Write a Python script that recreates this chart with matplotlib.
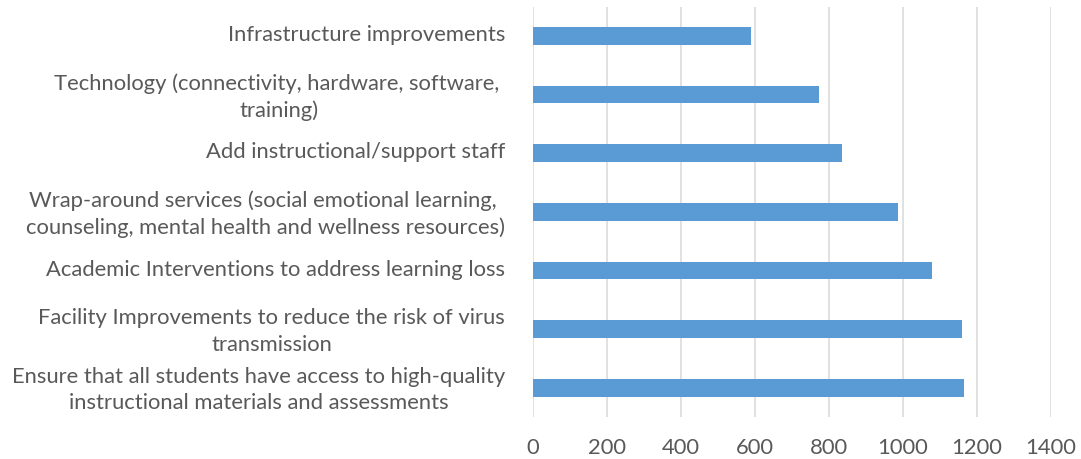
import matplotlib
matplotlib.use("Agg")
import matplotlib.pyplot as plt
import matplotlib.transforms as mtransforms

categories = [
    "Infrastructure improvements",
    "Technology (connectivity, hardware, software, \ntraining)",
    "Add instructional/support staff",
    "Wrap-around services (social emotional learning, \ncounseling, mental health and wellness resources)",
    "Academic Interventions to address learning loss",
    "Facility Improvements to reduce the risk of virus\ntransmission",
    "Ensure that all students have access to high-quality\ninstructional materials and assessments",
]
values = [589, 773, 837, 986, 1079, 1160, 1165]
x_ticks = [0, 200, 400, 600, 800, 1000, 1200, 1400]

text_color = "#595959"
bar_color = "#5B9BD5"
grid_color = "#D9D9D9"

plt.rcParams["font.family"] = ["Lato", "DejaVu Sans"]

fig = plt.figure(figsize=(10.81, 4.59), dpi=100)
ax = fig.add_axes([0.4928, 0.0908, 0.4792, 0.895])

ypos = list(range(len(categories)))
ax.barh(ypos, values, height=0.3, color=bar_color, zorder=3)

ax.set_xlim(0, 1400)
ax.set_ylim(len(categories) - 0.5, -0.5)
ax.set_xticks(x_ticks)
ax.set_xticklabels([str(t) for t in x_ticks])
ax.set_yticks(ypos)
ax.set_yticklabels(categories, multialignment="center", linespacing=1.4)

ax.grid(axis="x", color=grid_color, linewidth=1.1, zorder=0)
for s in ax.spines.values():
    s.set_visible(False)
ax.tick_params(axis="both", length=0, colors=text_color, labelsize=15.8)
ax.tick_params(axis="y", pad=20)
ax.tick_params(axis="x", pad=15)

# nudge category labels up a little, like the original
shift = mtransforms.ScaledTranslation(0, 3 / 100, fig.dpi_scale_trans)
for lbl in ax.get_yticklabels():
    lbl.set_transform(lbl.get_transform() + shift)

fig.savefig("out.png", dpi=100)
plt.close(fig)
